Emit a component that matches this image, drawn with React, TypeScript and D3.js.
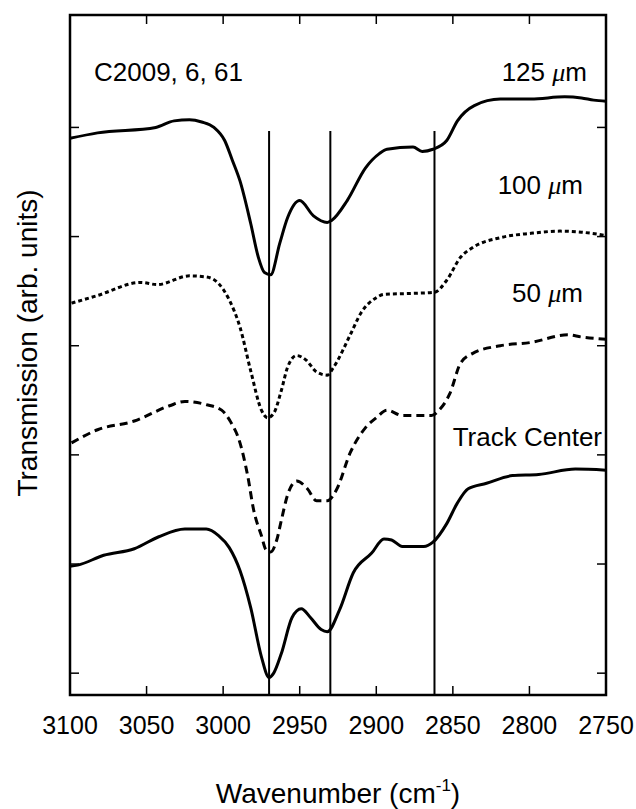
import React from "react";
import * as d3 from "d3";

// wavenumber (cm^-1), transmission (arb. units, offset per trace)
const wn125 = [3100, 3082, 3044, 3032, 3022, 3014, 3006, 2999, 2994, 2989, 2982, 2977, 2973, 2969, 2963, 2958, 2950, 2941, 2932, 2929, 2919, 2907, 2898, 2893, 2876, 2870, 2863, 2854, 2847, 2836, 2819, 2799, 2777, 2766, 2758, 2750];
const t125 = [4.90, 4.95, 5.00, 5.06, 5.07, 5.05, 5.00, 4.88, 4.70, 4.51, 4.12, 3.81, 3.67, 3.65, 3.94, 4.17, 4.33, 4.19, 4.13, 4.15, 4.33, 4.63, 4.76, 4.80, 4.82, 4.78, 4.80, 4.88, 5.06, 5.20, 5.26, 5.26, 5.28, 5.27, 5.25, 5.24];

const wn100 = [3099, 3082, 3054, 3043, 3022, 3011, 3003, 2996, 2989, 2982, 2975, 2971, 2967, 2962, 2958, 2952, 2946, 2939, 2932, 2928, 2917, 2910, 2900, 2895, 2876, 2862, 2854, 2845, 2837, 2819, 2799, 2780, 2766, 2750];
const t100 = [3.39, 3.46, 3.58, 3.56, 3.64, 3.63, 3.57, 3.42, 3.17, 2.77, 2.41, 2.34, 2.38, 2.59, 2.80, 2.91, 2.87, 2.76, 2.73, 2.80, 3.10, 3.30, 3.44, 3.47, 3.48, 3.49, 3.60, 3.81, 3.90, 3.99, 4.03, 4.05, 4.04, 4.01];

const wn50 = [3099, 3082, 3058, 3035, 3025, 3011, 3001, 2995, 2989, 2984, 2980, 2975, 2972, 2969, 2965, 2962, 2958, 2952, 2945, 2939, 2932, 2926, 2917, 2907, 2900, 2893, 2883, 2864, 2859, 2852, 2845, 2837, 2819, 2799, 2775, 2766, 2750];
const t50 = [2.11, 2.23, 2.31, 2.45, 2.49, 2.46, 2.41, 2.30, 2.11, 1.81, 1.49, 1.26, 1.13, 1.11, 1.22, 1.40, 1.63, 1.76, 1.69, 1.58, 1.58, 1.68, 2.02, 2.25, 2.34, 2.41, 2.36, 2.36, 2.41, 2.56, 2.84, 2.93, 3.00, 3.03, 3.10, 3.08, 3.06];

const wnTC = [3100, 3095, 3078, 3058, 3042, 3025, 3011, 3003, 2996, 2989, 2982, 2975, 2970, 2967, 2962, 2955, 2949, 2943, 2936, 2932, 2924, 2915, 2903, 2895, 2890, 2883, 2869, 2863, 2854, 2847, 2840, 2828, 2811, 2794, 2770, 2750];
const tTC = [0.98, 0.99, 1.08, 1.14, 1.25, 1.32, 1.32, 1.26, 1.15, 0.94, 0.60, 0.15, -0.04, 0.00, 0.18, 0.51, 0.59, 0.51, 0.40, 0.38, 0.58, 0.92, 1.10, 1.23, 1.22, 1.16, 1.16, 1.20, 1.37, 1.56, 1.69, 1.74, 1.81, 1.82, 1.87, 1.86];

const xTicks = [3100, 3050, 3000, 2950, 2900, 2850, 2800, 2750];
const yTicks = [0, 1, 2, 3, 4, 5];
const markerLines = [2970, 2930, 2862];

const seriesNames = ["125", "100", "50", "Track Center"];
const seriesDash = [null, "4,3", "8,5", null];

const M = { left: 70, right: 606, top: 15, bottom: 695 };

export default function App() {
  const x = d3.scaleLinear().domain([3100, 2750]).range([M.left, M.right]);
  const y = d3.scaleLinear().domain([-0.2, 6.03]).range([M.bottom, M.top]);
  const line = d3
    .line<[number, number]>()
    .x((d) => x(d[0]))
    .y((d) => y(d[1]))
    .curve(d3.curveMonotoneX);

  const series = [
    d3.zip(wn125, t125) as [number, number][],
    d3.zip(wn100, t100) as [number, number][],
    d3.zip(wn50, t50) as [number, number][],
    d3.zip(wnTC, tTC) as [number, number][],
  ];

  const font = "'Liberation Sans', Arial, sans-serif";
  const tickLen = 9;
  const mu = (
    <tspan fontFamily="'Liberation Serif', serif" fontStyle="italic">
      μ
    </tspan>
  );

  return (
    <svg
      width={636}
      height={809}
      style={{ position: "absolute", left: 0, top: 0, background: "#fff" }}
      fontFamily={font}
    >
      <rect width={636} height={809} fill="#fff" />
      {/* vertical marker lines */}
      {markerLines.map((w) => (
        <line key={w} x1={x(w)} x2={x(w)} y1={131} y2={M.bottom} stroke="#000" strokeWidth={2} />
      ))}
      {/* curves */}
      {series.map((s, i) => (
        <path
          key={seriesNames[i]}
          d={line(s) || ""}
          fill="none"
          stroke="#000"
          strokeWidth={3}
          strokeDasharray={seriesDash[i] || undefined}
          strokeLinejoin="round"
        />
      ))}
      {/* frame */}
      <rect
        x={M.left}
        y={M.top}
        width={M.right - M.left}
        height={M.bottom - M.top}
        fill="none"
        stroke="#000"
        strokeWidth={2.5}
      />
      {/* x ticks */}
      {xTicks.map((t) => (
        <g key={t}>
          <line x1={x(t)} x2={x(t)} y1={M.bottom} y2={M.bottom - tickLen} stroke="#000" strokeWidth={1.5} />
          <line x1={x(t)} x2={x(t)} y1={M.top} y2={M.top + tickLen} stroke="#000" strokeWidth={1.5} />
          <text x={x(t)} y={734} textAnchor="middle" fontSize={25} fill="#000">
            {t}
          </text>
        </g>
      ))}
      {/* y ticks */}
      {yTicks.map((t) => (
        <g key={t}>
          <line x1={M.left} x2={M.left + tickLen} y1={y(t)} y2={y(t)} stroke="#000" strokeWidth={1.5} />
          <line x1={M.right} x2={M.right - tickLen} y1={y(t)} y2={y(t)} stroke="#000" strokeWidth={1.5} />
        </g>
      ))}
      {/* annotations */}
      <text x={94} y={81} fontSize={26} fill="#000">C2009, 6, 61</text>
      <text x={587} y={81} fontSize={26} textAnchor="end" fill="#000">125 {mu}m</text>
      <text x={583} y={194} fontSize={26} textAnchor="end" fill="#000">100 {mu}m</text>
      <text x={583} y={302} fontSize={26} textAnchor="end" fill="#000">50 {mu}m</text>
      <text x={602} y={446} fontSize={26} textAnchor="end" fill="#000">Track Center</text>
      {/* axis titles */}
      <text x={338} y={803} textAnchor="middle" fontSize={28} fill="#000">
        Wavenumber (cm
        <tspan fontSize={17} dy={-12}>-1</tspan>
        <tspan dy={12}>)</tspan>
      </text>
      <text
        transform="translate(37,343) rotate(-90)"
        textAnchor="middle"
        fontSize={28}
        fill="#000"
      >
        Transmission (arb. units)
      </text>
    </svg>
  );
}
